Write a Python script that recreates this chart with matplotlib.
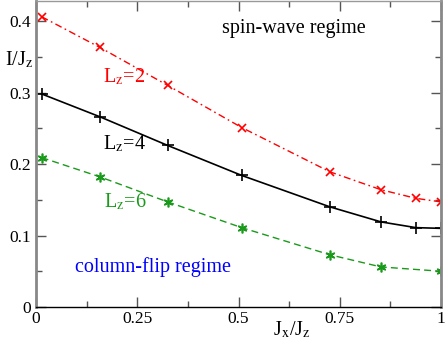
import matplotlib
matplotlib.use("Agg")
import matplotlib.pyplot as plt
from matplotlib.ticker import MultipleLocator

plt.rcParams['font.family'] = ['Liberation Serif', 'DejaVu Serif']
plt.rcParams['mathtext.fontset'] = 'stix'

x_l2 = [0.014, 0.158, 0.325, 0.508, 0.726, 0.852, 0.938, 1.0]
y_l2 = [0.406, 0.363, 0.310, 0.251, 0.189, 0.164, 0.152, 0.147]
x_l4 = [0.014, 0.158, 0.325, 0.508, 0.726, 0.852, 0.938, 1.0]
y_l4 = [0.298, 0.266, 0.226, 0.184, 0.140, 0.119, 0.111, 0.110]
x_l6 = [0.014, 0.158, 0.325, 0.508, 0.726, 0.852, 1.0]
y_l6 = [0.209, 0.182, 0.147, 0.111, 0.073, 0.056, 0.050]

xticks = [0, 0.25, 0.5, 0.75, 1]
xticklabels = ['0', '0.25', '0.5', '0.75', '1']
yticks = [0, 0.1, 0.2, 0.3, 0.4]
yticklabels = ['0', '0.1', '0.2', '0.3', '0.4']

fig = plt.figure(figsize=(4.47, 3.47), dpi=100)
ax = fig.add_axes([36/447, 1-307/347, (441-36)/447, (307-1)/347])

green = '#1a9a1a'
ax.plot(x_l2, y_l2, color='red', ls=(0, (5, 2.5, 1.2, 2.5)), lw=1.0, marker='x', ms=6, mew=1.2)
ax.plot(x_l4, y_l4, color='black', ls='-', lw=1.2, marker='+', ms=8, mew=1.2)
ax.plot(x_l6, y_l6, color=green, ls=(0, (5, 3)), lw=1.0, marker=(6, 2, 0), ms=7, mew=1.2)

ax.set_xlim(0, 1)
ax.set_ylim(0, 0.428)
ax.set_xticks(xticks)
ax.set_xticklabels(xticklabels)
ax.set_yticks(yticks)
ax.set_yticklabels(yticklabels)
ax.xaxis.set_minor_locator(MultipleLocator(0.125))
ax.yaxis.set_minor_locator(MultipleLocator(0.05))
ax.tick_params(which='both', direction='in', top=True, right=True, color='#555555', labelsize=12.5)
ax.tick_params(which='major', length=7, width=1)
ax.tick_params(which='minor', length=4, width=1)
ax.tick_params(axis='x', pad=3)

ax.spines['left'].set_color('#888888')
ax.spines['left'].set_linewidth(2)
ax.spines['right'].set_color('#888888')
ax.spines['right'].set_linewidth(2)
ax.spines['top'].set_color('#999999')
ax.spines['top'].set_linewidth(1)
ax.spines['bottom'].set_color('black')
ax.spines['bottom'].set_linewidth(1)

sz = r'$_{\mathrm{z}}$'
sx = r'$_{\mathrm{x}}$'
fig.text(5/447, 1-60/347, 'I/J' + sz, fontsize=14.5, va='center', ha='left')
fig.text(292/447, 1-330/347, 'J' + sx + '/J' + sz, fontsize=14.5, va='center', ha='center')

ax.text(0.46, 0.389, 'spin-wave regime', fontsize=14.5, color='black', va='center', ha='left')
ax.text(0.096, 0.056, 'column-flip regime', fontsize=14.5, color='blue', va='center', ha='left')
ax.text(0.165, 0.322, 'L' + sz + '=2', fontsize=14.5, color='red', va='center', ha='left')
ax.text(0.165, 0.228, 'L' + sz + '=4', fontsize=14.5, color='black', va='center', ha='left')
ax.text(0.168, 0.147, 'L' + sz + '=6', fontsize=14.5, color=green, va='center', ha='left')

fig.savefig('out.png', dpi=100)
